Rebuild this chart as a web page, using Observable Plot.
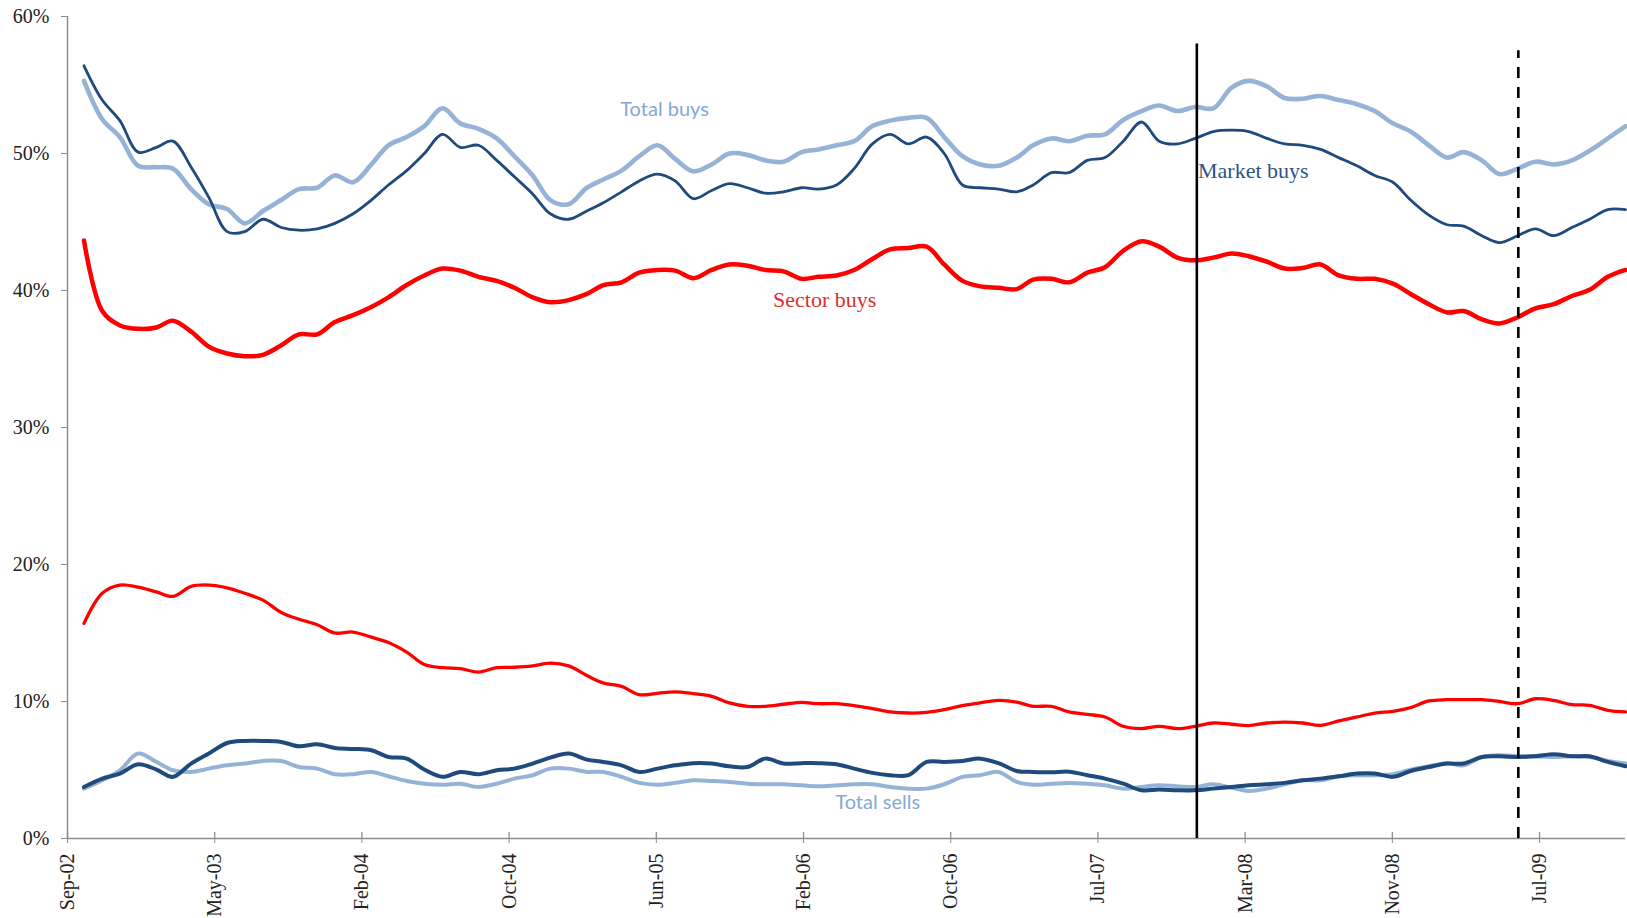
<!DOCTYPE html>
<html><head><meta charset="utf-8">
<script src="https://cdn.jsdelivr.net/npm/d3@7"></script>
<script src="https://cdn.jsdelivr.net/npm/@observablehq/plot@0.6"></script>
<style>body{margin:0;background:#fff}#chart svg{display:block}</style>
</head><body><div id="chart"></div>
<script>
// Monthly observations, first one in Oct-2002
const firstMonth = "2002-10-18";
const axisStart = "2002-09-20";
const axisEnd = "2009-12-18";
const tickDates = ["2002-09-20","2003-05-28","2004-02-02","2004-10-09","2005-06-16","2006-02-21","2006-10-29","2007-07-06","2008-03-12","2008-11-17","2009-07-25"];
const yTicks = [0, 10, 20, 30, 40, 50, 60];

const totalBuys = [55.3,52.5,51.2,49.1,49.0,48.9,47.4,46.3,45.95,44.9,45.8,46.6,47.4,47.5,48.4,47.9,49.2,50.6,51.2,
  52.0,53.3,52.2,51.8,51.1,49.8,48.4,46.6,46.3,47.5,48.1,48.75,49.8,50.6,49.6,48.7,49.2,50.0,49.9,49.5,49.4,50.1,50.3,
  50.6,50.9,52.0,52.4,52.6,52.6,51.2,49.8,49.2,49.1,49.7,50.6,51.1,50.9,51.3,51.4,52.45,53.1,53.5,53.1,53.4,53.3,
  54.8,55.3,54.9,54.05,54.0,54.2,53.9,53.6,53.1,52.2,51.6,50.6,49.7,50.1,49.5,48.5,48.9,49.4,49.2,49.5,50.2,51.1,52.0];
const marketBuys = [56.4,53.9,52.4,50.1,50.45,50.9,49.0,46.8,44.3,44.3,45.2,44.6,44.4,44.5,44.9,45.6,46.6,47.7,48.75,
  50.0,51.4,50.45,50.6,49.5,48.3,47.05,45.6,45.2,45.8,46.4,47.2,48.0,48.5,48.0,46.7,47.3,47.8,47.5,47.1,47.2,47.5,47.4,
  47.7,48.9,50.7,51.4,50.7,51.2,50.0,47.7,47.5,47.4,47.2,47.7,48.6,48.6,49.5,49.7,50.9,52.3,50.9,50.7,51.1,51.6,
  51.7,51.6,51.1,50.7,50.6,50.3,49.7,49.1,48.4,47.9,46.6,45.5,44.8,44.7,44.0,43.5,44.0,44.5,44.0,44.6,45.2,45.9,45.9];
const sectorBuys = [43.65,38.5,37.45,37.2,37.3,37.8,37.0,35.9,35.4,35.2,35.3,36.0,36.8,36.8,37.7,38.2,38.8,39.5,40.4,
  41.1,41.6,41.45,41.0,40.7,40.2,39.5,39.15,39.3,39.75,40.4,40.6,41.3,41.5,41.45,40.9,41.5,41.9,41.8,41.5,41.4,40.85,41.0,
  41.1,41.5,42.3,43.0,43.1,43.2,41.9,40.7,40.3,40.2,40.1,40.8,40.85,40.6,41.3,41.7,42.9,43.6,43.2,42.4,42.2,42.4,
  42.7,42.5,42.1,41.6,41.65,41.9,41.1,40.85,40.85,40.5,39.75,39.0,38.4,38.5,37.9,37.6,38.05,38.7,39.0,39.6,40.05,41.0,41.5];
const sectorSells = [15.7,17.9,18.5,18.35,18.0,17.67,18.4,18.5,18.3,17.9,17.4,16.5,16.0,15.6,15.0,15.07,14.7,14.3,13.6,
  12.7,12.47,12.4,12.15,12.47,12.5,12.6,12.8,12.6,11.9,11.35,11.1,10.5,10.6,10.7,10.57,10.38,9.9,9.65,9.65,9.8,9.94,9.84,
  9.84,9.7,9.48,9.24,9.16,9.2,9.4,9.7,9.9,10.08,9.96,9.65,9.65,9.24,9.06,8.87,8.19,8.02,8.19,8.02,8.19,8.43,
  8.34,8.24,8.43,8.5,8.43,8.26,8.58,8.87,9.16,9.28,9.55,10.04,10.13,10.13,10.13,10.0,9.84,10.2,10.08,9.77,9.72,9.36,9.24];
const marketSells = [3.76,4.37,4.74,5.42,5.03,4.5,5.47,6.2,6.97,7.12,7.12,7.05,6.73,6.88,6.61,6.54,6.44,5.95,5.83,
  5.03,4.5,4.86,4.69,4.98,5.1,5.47,5.9,6.2,5.76,5.59,5.34,4.86,5.1,5.34,5.5,5.47,5.27,5.22,5.83,5.47,5.5,5.5,
  5.42,5.1,4.79,4.62,4.62,5.59,5.59,5.66,5.83,5.5,4.93,4.86,4.83,4.88,4.62,4.37,4.0,3.52,3.57,3.52,3.52,3.64,
  3.76,3.88,3.96,4.06,4.25,4.37,4.54,4.74,4.74,4.5,4.93,5.22,5.47,5.47,5.95,6.0,5.95,6.0,6.15,6.0,6.0,5.59,5.27];
const totalSells = [3.64,4.25,4.98,6.2,5.59,4.98,4.86,5.1,5.34,5.47,5.66,5.66,5.22,5.1,4.69,4.69,4.86,4.54,4.2,
  4.0,3.93,4.0,3.76,4.0,4.37,4.62,5.1,5.1,4.86,4.86,4.5,4.06,3.93,4.06,4.25,4.2,4.13,4.0,3.96,3.96,3.88,3.81,
  3.88,3.96,3.96,3.76,3.64,3.64,3.96,4.5,4.62,4.86,4.13,3.93,4.0,4.06,4.0,3.88,3.64,3.76,3.88,3.81,3.76,3.96,
  3.71,3.47,3.64,3.96,4.25,4.25,4.54,4.62,4.62,4.69,5.03,5.27,5.5,5.34,5.95,6.08,6.0,6.0,5.95,6.0,5.95,5.66,5.47];

// Recession markers
const eventDates = ["2007-12-21", "2009-06-19"];
const eventTops = [58, 57.5];
const eventDash = [null, "11,9"];

// Series labels
const labelNames = ["Total buys", "Market buys", "Sector buys", "Total sells"];
const labelDates = ["2005-06-30", "2007-12-23", "2006-03-29", "2006-06-27"];
const labelValues = [53.2, 48.7, 39.3, 2.6];

const lightBlue = "#95B3D7", darkBlue = "#1F4A7C", red = "#FF0000";

const months = d3.range(totalBuys.length).map(i => d3.utcMonth.offset(new Date(firstMonth), i));
const series = arr => arr.map((v, i) => ({date: months[i], value: v}));

const curve = "catmull-rom";
const line = (arr, stroke, w) => Plot.line(series(arr), {x: "date", y: "value", stroke, strokeWidth: w, curve, strokeLinejoin: "round", strokeLinecap: "round"});

const events = eventDates.map((d, i) => ({date: new Date(d), top: eventTops[i], dash: eventDash[i]}));
const labels = labelNames.map((n, i) => ({name: n, date: new Date(labelDates[i]), value: labelValues[i]}));
const tickList = tickDates.map(d => new Date(d));

const chart = Plot.plot({
  width: 1627, height: 918,
  marginLeft: 67, marginRight: 2, marginTop: 16, marginBottom: 80,
  style: {fontFamily: "'Liberation Serif', 'Times New Roman', serif", fontSize: "20px", background: "#fff", color: "#222"},
  x: {type: "utc", domain: [new Date(axisStart), new Date(axisEnd)]},
  y: {domain: [0, 60]},
  marks: [
    Plot.axisY({ticks: yTicks, tickFormat: d => d + "%", tickSize: 6, tickPadding: 12, stroke: "#8c8c8c", fill: "#222", fontSize: 20, label: null}),
    Plot.axisX({ticks: tickList, tickFormat: d3.utcFormat("%b-%y"), tickRotate: -90, tickSize: 5, tickPadding: 10, stroke: "#8c8c8c", fill: "#222", fontSize: 20, label: null}),
    Plot.ruleX(tickList, {y1: 0, y2: 0, insetTop: -6, stroke: "#8c8c8c", strokeWidth: 1.3}),
    Plot.ruleY([0], {stroke: "#8c8c8c", strokeWidth: 1.5}),
    Plot.ruleX([new Date(axisStart)], {stroke: "#8c8c8c", strokeWidth: 1.5}),
    // lower group
    line(sectorSells, red, 3.3),
    line(totalSells, lightBlue, 4),
    line(marketSells, darkBlue, 4),
    // upper group
    line(totalBuys, lightBlue, 4.6),
    line(marketBuys, darkBlue, 2.8),
    line(sectorBuys, red, 4.5),
    Plot.ruleX(events.filter(e => !e.dash), {x: "date", y1: 0, y2: "top", stroke: "#000", strokeWidth: 2.6}),
    Plot.ruleX(events.filter(e => e.dash), {x: "date", y1: 0, y2: "top", stroke: "#000", strokeWidth: 2.6, strokeDasharray: "11,9"}),
    Plot.text(labels.filter(l => l.name === "Total buys" || l.name === "Total sells"), {x: "date", y: "value", text: "name", fill: "#86A8D6", fontFamily: "Lato, sans-serif", fontSize: 20, textAnchor: "middle"}),
    Plot.text(labels.filter(l => l.name === "Sector buys"), {x: "date", y: "value", text: "name", fill: "#D9302E", fontSize: 22, textAnchor: "middle"}),
    Plot.text(labels.filter(l => l.name === "Market buys"), {x: "date", y: "value", text: "name", fill: "#2E5486", fontSize: 22, textAnchor: "start"})
  ]
});
document.getElementById("chart").append(chart);
</script>
</body></html>
